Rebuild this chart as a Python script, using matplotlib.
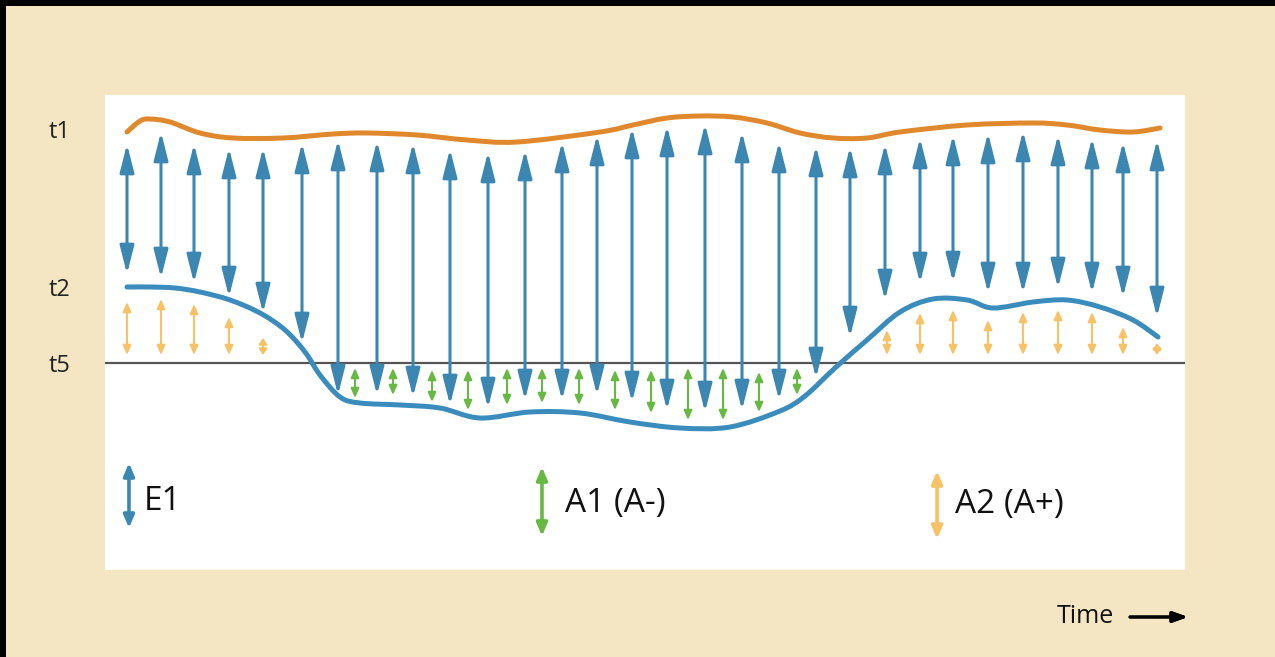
import numpy as np
import matplotlib
matplotlib.use("Agg")
import matplotlib.pyplot as plt
from matplotlib.path import Path
from matplotlib.patches import PathPatch, Rectangle

plt.rcParams['font.family'] = ['Open Sans', 'DejaVu Sans']

# time runs 0..1080 across the white panel, level 0 = t5
t1_time = [22, 35, 45, 65, 95, 128, 178, 228, 262, 312, 362, 412, 495, 528, 562,
           595, 628, 662, 695, 728, 762, 795, 862, 928, 962, 995, 1028, 1055]
t1_level = [231, 242, 244, 241, 230, 225, 225, 229, 230, 228, 223, 221, 231, 238, 245,
            247, 246, 240, 230, 225, 225, 231, 238, 240, 238, 233, 231, 235]

t2_time = [22, 45, 70, 95, 125, 155, 180, 200, 215, 235, 255, 295, 335, 375, 425, 475,
           525, 575, 625, 675, 700, 730, 762, 795, 828, 862, 888, 928, 962, 995,
           1028, 1053]
t2_level = [76, 76, 75, 71, 63, 50, 33, 11, -12, -34, -40, -42, -45, -55, -49, -50,
            -59, -65, -64, -48, -33, -5, 23, 51, 64, 63, 55, 61, 63, 56, 43, 26]

# E1 arrows (blue, t1 -> t2)
e1_time = [22, 56, 89, 124, 158, 197, 233, 272, 308, 345, 383, 420, 457, 492, 527,
           562, 600, 637, 674, 711, 745, 780, 815, 848, 883, 918, 953, 987, 1018, 1052]
e1_top = [219, 231, 219, 215, 215, 220, 223, 222, 220, 214, 211, 213, 221, 228, 235,
          237, 239, 231, 221, 217, 216, 219, 225, 228, 230, 232, 228, 225, 221, 223]
e1_bottom = [89, 85, 80, 66, 50, 20, -32, -32, -34, -42, -45, -37, -37, -32, -39,
             -47, -49, -47, -37, -15, 26, 63, 80, 81, 70, 70, 75, 70, 66, 46]

# A1 arrows (green, below t5)
a1_time = [250, 288, 327, 363, 402, 437, 474, 510, 546, 583, 618, 654, 692]
a1_top = [-5, -5, -7, -7, -5, -5, -5, -7, -7, -5, -5, -9, -5]
a1_bottom = [-35, -32, -39, -47, -42, -40, -42, -47, -50, -57, -57, -49, -32]

# A2 arrows (light orange, above t5)
a2_time = [22, 56, 89, 124, 158, 782, 815, 848, 883, 918, 953, 987, 1018, 1052]
a2_top = [61, 64, 59, 46, 25, 33, 50, 53, 43, 51, 53, 51, 36, 20]
a2_bottom = [8, 8, 8, 8, 8, 8, 8, 8, 8, 8, 8, 8, 8, 8]

level_ticks = [234, 76, 0]
level_labels = ['t1', 't2', 't5']
legend_labels = ['E1', 'A1 (A-)', 'A2 (A+)']

BEIGE = '#f5e6c3'
BLUE = '#3b87b2'
CURVE_BLUE = '#3a8cbc'
ORANGE = '#e0882c'
GREEN = '#68b944'
LIGHT_ORANGE = '#f7c266'


def smooth_path(xs, ys):
    # catmull-rom through the read points, as bezier segments
    pts = np.column_stack([xs, ys]).astype(float)
    verts = [pts[0]]
    codes = [Path.MOVETO]
    n = len(pts)
    for i in range(n - 1):
        p0 = pts[max(i - 1, 0)]
        p1 = pts[i]
        p2 = pts[i + 1]
        p3 = pts[min(i + 2, n - 1)]
        verts += [p1 + (p2 - p0) / 6, p2 - (p3 - p1) / 6, p2]
        codes += [Path.CURVE4] * 3
    return Path(verts, codes)


def double_arrow(ax, x, y0, y1, color, lw, hl, hw, coords='data', z=4):
    ax.annotate('', xy=(x, y1), xytext=(x, y0), xycoords=coords, textcoords=coords,
                arrowprops=dict(arrowstyle=f'<|-|>,head_length={hl},head_width={hw}',
                                color=color, lw=lw, shrinkA=0, shrinkB=0,
                                mutation_scale=1),
                zorder=z, annotation_clip=False)


fig = plt.figure(figsize=(12.75, 6.57), dpi=100)
fig.patch.set_facecolor(BEIGE)

# black frame on left and top edges
fig.add_artist(Rectangle((0, 0), 6 / 1275, 1, transform=fig.transFigure,
                         color='black', lw=0))
fig.add_artist(Rectangle((0, 1 - 6 / 657), 1, 6 / 657, transform=fig.transFigure,
                         color='black', lw=0))

ax = fig.add_axes([105 / 1275, 87 / 657, 1080 / 1275, 475 / 657])
ax.set_facecolor('white')
ax.set_xlim(0, 1080)
ax.set_ylim(-207, 268)
for s in ax.spines.values():
    s.set_visible(False)
ax.set_xticks([])
ax.set_yticks(level_ticks)
ax.set_yticklabels(level_labels, fontsize=17, color='#222222')
ax.tick_params(axis='y', length=0, pad=25)

ax.axhline(0, color='#555555', lw=1.6, zorder=1)

ax.add_patch(PathPatch(smooth_path(t1_time, t1_level), fill=False, color=ORANGE,
                       lw=3.6, capstyle='round', zorder=3))
ax.add_patch(PathPatch(smooth_path(t2_time, t2_level), fill=False, color=CURVE_BLUE,
                       lw=3.6, capstyle='round', zorder=3))

for x, a, b in zip(e1_time, e1_top, e1_bottom):
    double_arrow(ax, x, b, a, BLUE, 2.2, 17, 4.3)
for x, a, b in zip(a1_time, a1_top, a1_bottom):
    double_arrow(ax, x, b, a, GREEN, 1.5, 5.5, 2.4)
for x, a, b in zip(a2_time, a2_top, a2_bottom):
    hl = 5.5 if a - b > 20 else 3.5
    double_arrow(ax, x, b, a, LIGHT_ORANGE, 1.5, hl, 2.4)

# legend
leg_colors = [BLUE, GREEN, LIGHT_ORANGE]
leg_x = [0.0222, 0.4046, 0.7704]
leg_top = [0.2253, 0.2168, 0.2084]
leg_bottom = [0.0884, 0.0716, 0.0653]
leg_text_x = [0.0361, 0.4259, 0.7870]
leg_base = [0.1263, 0.1221, 0.1200]
for lab, c, x, a, b, tx, ty in zip(legend_labels, leg_colors, leg_x, leg_top,
                                   leg_bottom, leg_text_x, leg_base):
    double_arrow(ax, x, b, a, c, 2.6, 7.5, 3.2, coords='axes fraction')
    ax.text(tx, ty, lab, transform=ax.transAxes, fontsize=24, color='#111111',
            va='baseline', ha='left')

fig.text(1057 / 1275, (657 - 623) / 657, 'Time', fontsize=18, color='#111111',
         va='baseline', ha='left')
fig.add_artist(plt.annotate('', xy=(1188 / 1275, 40 / 657), xytext=(1130 / 1275, 40 / 657),
                            xycoords='figure fraction', textcoords='figure fraction',
                            arrowprops=dict(arrowstyle='-|>,head_length=9,head_width=3.2',
                                            color='black', lw=2.2, shrinkA=0, shrinkB=0,
                                            mutation_scale=1)))

fig.savefig('out.png', dpi=100, facecolor=BEIGE)
